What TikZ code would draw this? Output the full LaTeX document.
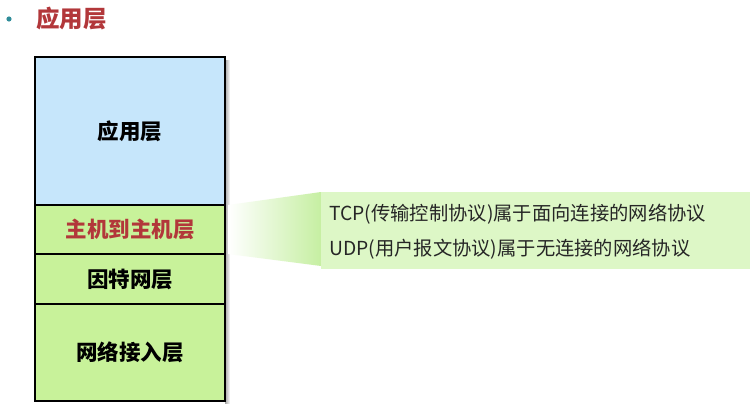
\documentclass[tikz,border=0pt]{standalone}
\usepackage{fontspec}
\newfontfamily\cjk{Noto Sans CJK SC}
\usetikzlibrary{positioning}
\definecolor{appblue}{HTML}{C6E6FB}
\definecolor{laygreen}{HTML}{C8F29A}
\definecolor{calgreen}{HTML}{DDF7C6}
\definecolor{wedgegreen}{HTML}{C6EFA2}
\definecolor{hred}{HTML}{B2373A}
\definecolor{bulletteal}{HTML}{2F8C99}
\tikzset{
  layer/.style={draw=black, line width=2.2pt, minimum width=190pt, inner sep=0pt, outer sep=0pt,
    font=\cjk\bfseries\fontsize{21.5}{24}\selectfont},
  calltext/.style={anchor=west, inner sep=0pt, font=\cjk\fontsize{19.3}{22}\selectfont, text=black!85},
}
\begin{document}
\begin{tikzpicture}[x=1pt,y=-1pt]
\useasboundingbox[fill=white] (0,0) rectangle (752,404);
% bullet and title
\fill[bulletteal] (9,19) circle (2.6pt);
\node[anchor=west, inner sep=0pt, font=\cjk\bfseries\fontsize{23.5}{26}\selectfont, text=hred] (title) at (36,19) {应用层};
% shadow
\shade[left color=black!35, right color=white] (225,61) rectangle (230,404);
% pointer wedge
\shade[left color=white, right color=wedgegreen] (228,205) -- (321,192) -- (321,266) -- (228,254) -- cycle;
% callout
\node[fill=calgreen, draw=none, anchor=north west, minimum width=429pt, minimum height=77pt, inner sep=0pt] (callout) at (321,192) {};
\node[calltext] (tcp) at (329,214) {TCP(传输控制协议)属于面向连接的网络协议};
\node[calltext] (udp) at (329,249) {UDP(用户报文协议)属于无连接的网络协议};
% layers
\node[layer, fill=appblue, minimum height=148pt] (app) at (130,131) {应用层};
\node[layer, fill=laygreen, minimum height=49pt, text=hred] (host) at (130,229.5) {主机到主机层};
\node[layer, fill=laygreen, minimum height=50pt] (inet) at (130,279) {因特网层};
\node[layer, fill=laygreen, minimum height=97pt] (net) at (130,352.5) {网络接入层};
\end{tikzpicture}
\end{document}
